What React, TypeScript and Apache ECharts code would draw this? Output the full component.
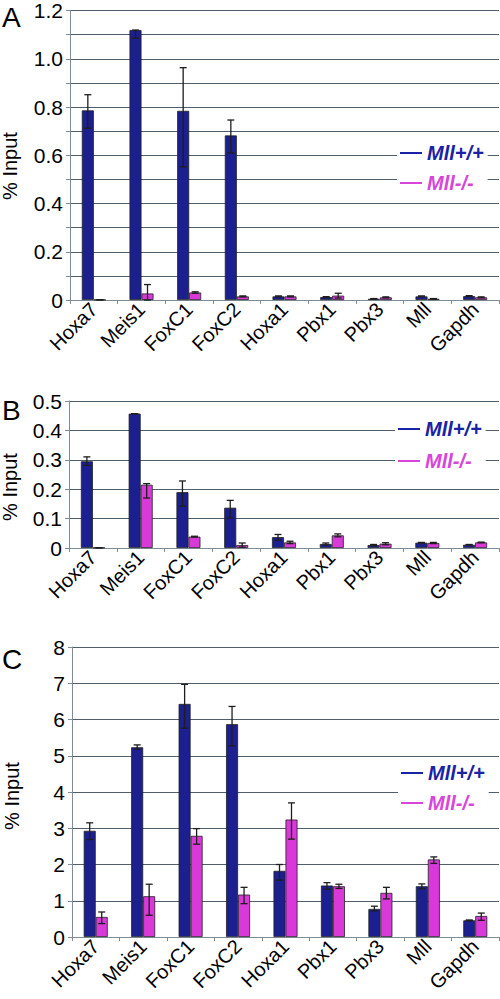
import React, { useEffect, useRef } from "react";
import * as echarts from "echarts";

const categories = ["Hoxa7", "Meis1", "FoxC1", "FoxC2", "Hoxa1", "Pbx1", "Pbx3", "Mll", "Gapdh"];
const seriesNames = ["Mll+/+", "Mll-/-"];

// Panel A
const wtA = [0.786, 1.119, 0.784, 0.682, 0.015, 0.012, 0.005, 0.015, 0.016];
const wtAHi = [0.851, 1.119, 0.963, 0.746, 0.017, 0.014, 0.006, 0.017, 0.018];
const wtALo = [0.712, 1.085, 0.552, 0.61, 0.013, 0.01, 0.004, 0.013, 0.014];
const koA = [0.001, 0.027, 0.031, 0.015, 0.015, 0.018, 0.011, 0.005, 0.011];
const koAHi = [0.001, 0.064, 0.034, 0.017, 0.017, 0.028, 0.013, 0.006, 0.013];
const koALo = [0.001, 0.0, 0.028, 0.013, 0.013, 0.008, 0.009, 0.004, 0.009];

// Panel B
const wtB = [0.295, 0.457, 0.19, 0.137, 0.037, 0.0136, 0.01, 0.018, 0.011];
const wtBHi = [0.31, 0.457, 0.228, 0.162, 0.046, 0.017, 0.012, 0.019, 0.012];
const wtBLo = [0.281, 0.457, 0.142, 0.102, 0.026, 0.01, 0.008, 0.017, 0.01];
const koB = [0.001, 0.215, 0.0385, 0.01, 0.019, 0.043, 0.0147, 0.017, 0.019];
const koBHi = [0.001, 0.219, 0.04, 0.017, 0.023, 0.048, 0.018, 0.019, 0.02];
const koBLo = [0.001, 0.17, 0.037, 0.003, 0.015, 0.038, 0.011, 0.015, 0.018];

// Panel C
const wtC = [2.93, 5.235, 6.43, 5.87, 1.825, 1.42, 0.774, 1.4, 0.46];
const wtCHi = [3.15, 5.3, 6.97, 6.36, 2.0, 1.5, 0.85, 1.465, 0.47];
const wtCLo = [2.69, 5.18, 5.76, 5.27, 1.57, 1.32, 0.72, 1.33, 0.45];
const koC = [0.553, 1.124, 2.79, 1.17, 3.24, 1.4, 1.217, 2.14, 0.58];
const koCHi = [0.69, 1.456, 2.99, 1.37, 3.7, 1.456, 1.37, 2.21, 0.66];
const koCLo = [0.37, 0.6, 2.56, 0.92, 2.7, 1.34, 1.05, 2.03, 0.46];

const yTicksA = { min: 0, max: 1.2, interval: 0.1 };
const yTicksB = { min: 0, max: 0.5, interval: 0.1 };
const yTicksC = { min: 0, max: 8, interval: 1 };

const BLUE = "#1b1f8f";
const PINK = "#d839d8";
const BLUE_TEXT = "#1a22a6";
const PINK_TEXT = "#d845d8";
const GRID = "#4f5e68";
const AXIS = "#7d8c96";
const FONT = "Liberation Sans";
const BAR_W = 12;

export default function App() {
  const ref = useRef<HTMLDivElement>(null);

  useEffect(() => {
    if (!ref.current) return;
    const chart = echarts.init(ref.current, undefined, { renderer: "svg" });

    const grids = [
      { left: 70, top: 5, width: 429, height: 295 },
      { left: 69, top: 401, width: 430, height: 147 },
      { left: 72, top: 647, width: 427, height: 290 },
    ];

    const panels = [
      { wt: wtA, wtHi: wtAHi, wtLo: wtALo, ko: koA, koHi: koAHi, koLo: koALo, y: yTicksA, fmt: (v: number) => (Math.round(v * 10) % 2 === 0 ? (v === 0 ? "0" : v.toFixed(1)) : "") },
      { wt: wtB, wtHi: wtBHi, wtLo: wtBLo, ko: koB, koHi: koBHi, koLo: koBLo, y: yTicksB, fmt: (v: number) => (v === 0 ? "0" : v.toFixed(1)) },
      { wt: wtC, wtHi: wtCHi, wtLo: wtCLo, ko: koC, koHi: koCHi, koLo: koCLo, y: yTicksC, fmt: (v: number) => String(v) },
    ];

    const xAxis = panels.map((_, i) => ({
      type: "category",
      gridIndex: i,
      data: categories,
      boundaryGap: true,
      axisLine: { show: true, lineStyle: { color: AXIS, width: 1 } },
      axisTick: { show: true, length: 4, alignWithLabel: false, lineStyle: { color: AXIS } },
      axisLabel: { show: true, rotate: 45, interval: 0, fontSize: 20, color: "#000", fontFamily: FONT, margin: 6 },
      splitLine: { show: false },
    }));

    const yAxis = panels.map((p, i) => ({
      type: "value",
      gridIndex: i,
      min: p.y.min,
      max: p.y.max,
      interval: p.y.interval,
      axisLine: { show: true, lineStyle: { color: AXIS, width: 1 } },
      axisTick: { show: true, length: 4, lineStyle: { color: AXIS } },
      axisLabel: { fontSize: 21, color: "#000", fontFamily: FONT, margin: 7, formatter: p.fmt },
      splitLine: { show: true, lineStyle: { color: GRID, width: 1.2 } },
    }));

    const errSeries = (i: number, lo: number[], hi: number[], off: number) => ({
      type: "custom",
      name: "err",
      xAxisIndex: i,
      yAxisIndex: i,
      z: 5,
      data: categories.map((_, k) => [k, lo[k], hi[k]]),
      encode: { x: 0, y: [1, 2] },
      renderItem: (params: any, api: any) => {
        const idx = api.value(0);
        const pLo = api.coord([idx, api.value(1)]);
        const pHi = api.coord([idx, api.value(2)]);
        const x = pLo[0] + off;
        const cap = 3.5;
        const st = { stroke: "#1e1e1e", lineWidth: 1.3 };
        return {
          type: "group",
          children: [
            { type: "line", shape: { x1: x, y1: pHi[1], x2: x, y2: pLo[1] }, style: st },
            { type: "line", shape: { x1: x - cap, y1: pHi[1], x2: x + cap, y2: pHi[1] }, style: st },
            { type: "line", shape: { x1: x - cap, y1: pLo[1], x2: x + cap, y2: pLo[1] }, style: st },
          ],
        };
      },
    });

    const series: any[] = [];
    panels.forEach((p, i) => {
      series.push({
        type: "bar",
        name: seriesNames[0],
        xAxisIndex: i,
        yAxisIndex: i,
        data: p.wt,
        barWidth: BAR_W,
        barGap: "0%",
        itemStyle: { color: BLUE, borderColor: "#222", borderWidth: 0.8 },
      });
      series.push({
        type: "bar",
        name: seriesNames[1],
        xAxisIndex: i,
        yAxisIndex: i,
        data: p.ko,
        barWidth: BAR_W,
        barGap: "0%",
        itemStyle: { color: PINK, borderColor: "#222", borderWidth: 0.8 },
      });
      series.push(errSeries(i, p.wtLo, p.wtHi, -BAR_W / 2));
      series.push(errSeries(i, p.koLo, p.koHi, BAR_W / 2));
    });

    const legendTops = [140, 416, 760];
    const legendGaps = [8, 10, 8];
    const legendLefts = [397, 395, 398];
    const legend = legendTops.map((t, i) => ({
      orient: "vertical",
      left: legendLefts[i],
      top: t,
      padding: [2, 4, 2, 3],
      backgroundColor: "#fff",
      itemGap: legendGaps[i],
      itemWidth: 22,
      itemHeight: 2,
      icon: "rect",
      selectedMode: false,
      textStyle: { fontSize: 20, fontWeight: "bold", fontStyle: "italic", fontFamily: FONT, lineHeight: 22 },
      data: [
        { name: seriesNames[0], itemStyle: { color: BLUE_TEXT, borderWidth: 0 }, textStyle: { color: BLUE_TEXT } },
        { name: seriesNames[1], itemStyle: { color: PINK_TEXT, borderWidth: 0 }, textStyle: { color: PINK_TEXT } },
      ],
    }));

    const letters = [
      { t: "A", y: 3 },
      { t: "B", y: 396 },
      { t: "C", y: 645 },
    ];
    const titles = [166, 487, 796];
    const graphic: any[] = [];
    letters.forEach((l, i) => {
      graphic.push({
        type: "text",
        id: "letter" + i,
        left: 2,
        top: l.y,
        style: { text: l.t, fontSize: 28, fontFamily: FONT, fill: "#000" },
      });
    });
    titles.forEach((cy, i) => {
      graphic.push({
        type: "text",
        id: "title" + i,
        x: i === 2 ? 12 : 10,
        y: cy,
        rotation: Math.PI / 2,
        style: { text: "% Input", fontSize: 20, fontFamily: FONT, fill: "#000", textAlign: "center", textVerticalAlign: "middle" },
      });
    });

    chart.setOption({
      animation: false,
      backgroundColor: "#fff",
      grid: grids,
      xAxis,
      yAxis,
      legend,
      series,
      graphic,
    } as any);

    return () => chart.dispose();
  }, []);

  return <div ref={ref} style={{ position: "fixed", left: 0, top: 0, width: 500, height: 999 }} />;
}
